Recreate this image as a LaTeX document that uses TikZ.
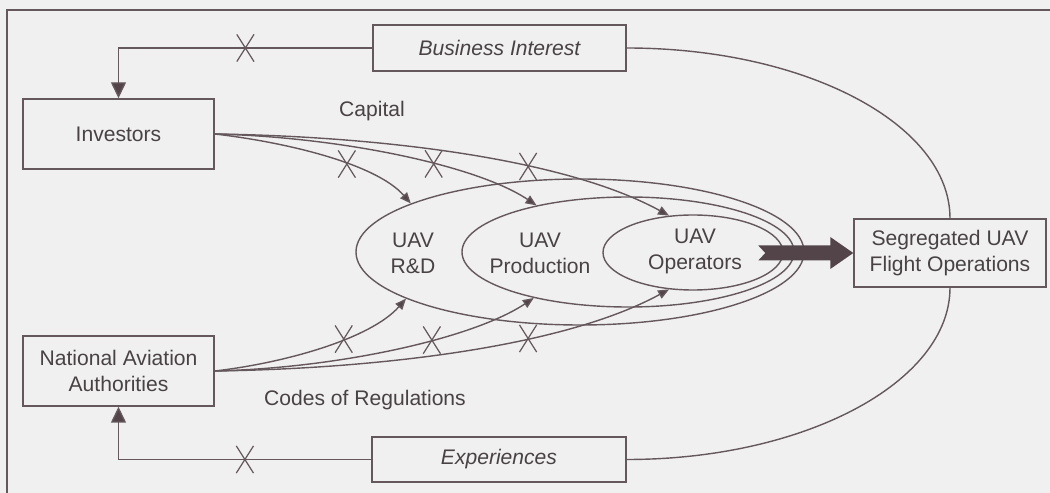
\documentclass[tikz,border=0pt]{standalone}
\usepackage{fontspec}
\setmainfont{Liberation Sans}
\usepackage{tikz}
\usetikzlibrary{arrows.meta}
\usetikzlibrary{shapes.geometric}
\usetikzlibrary{shapes.misc}
\definecolor{paper}{RGB}{241,240,240}
\definecolor{ink}{RGB}{100,88,92}
\definecolor{inktext}{RGB}{72,66,68}
\definecolor{inkhead}{RGB}{82,68,72}

\begin{document}
\begin{tikzpicture}[x=0.2mm, y=-0.2mm,
            every node/.style={font=\fontsize{12}{14.8}\selectfont, text=inktext},
            box/.style 2 args={draw=ink, line width=0.8pt, minimum width=#1, minimum height=#2, align=center, inner sep=0pt},
            slanted/.style={font=\fontsize{12}{14.8}\selectfont\itshape},
            ring/.style={ellipse, draw=ink, line width=0.8pt, inner sep=0pt},
            xmark/.style={cross out, draw=ink, line width=0.7pt, minimum width=3.2mm, minimum height=5.2mm, inner sep=0pt},
            link/.style={draw=ink, line width=0.8pt, -{Triangle[length=2.2mm, width=1.8mm, fill=inkhead]}},
            feed/.style={draw=ink, line width=0.8pt, -{Triangle[length=3.2mm, width=3mm, fill=inkhead]}},
            wrap/.style={draw=ink, line width=0.8pt}]
            \useasboundingbox (0,0) rectangle (1050,493);
            \fill[paper] (0,0) rectangle (1050,493);
            \draw[wrap] (7,493) -- (7,10) -- (1050,10);

            \node[box={50.6mm}{9.2mm}, slanted] (bi) at (499.5,48) {Business Interest};
            \node[box={38.2mm}{14mm}] (inv) at (118.5,134) {Investors};
            \node[box={38.2mm}{14mm}] (naa) at (118.5,371) {National Aviation\\Authorities};
            \node[box={50.8mm}{9mm}, slanted] (ex) at (499,459.5) {Experiences};
            \node[box={38.4mm}{13.6mm}] (seg) at (950,253) {Segregated UAV\\Flight Operations};

            \node[ring, minimum width=89.6mm, minimum height=29.2mm] (rd) at (580,252) {};
            \node[ring, minimum width=66.4mm, minimum height=22mm] (prod) at (628,252) {};
            \node[ring, minimum width=36mm, minimum height=15mm] (ops) at (693,252.5) {};
            \node[align=center] (rdlbl) at (413,253) {UAV\\R\&D};
            \node[align=center] (prodlbl) at (540,253) {UAV\\Production};
            \node[align=center] (opslbl) at (695,251) {UAV\\Operators};
            \node (capital) at (372,111) {Capital};
            \node (codes) at (365,400) {Codes of Regulations};

            \draw[feed] (bi.west) -| node[xmark, pos=0.25] (xbi) {} (inv.north);
            \draw[feed] (ex.west) -| node[xmark, pos=0.25] (xex) {} (naa.south);

            \draw[link] (inv.east) .. controls +(70,8) and +(-35,-40) .. node[xmark, pos=0.6] (xinv1) {} (rd.164.4);
            \draw[link] (inv.east) .. controls +(126,3) and +(-60,-40) .. node[xmark, pos=0.6] (xinv2) {} (prod.153.7);
            \draw[link] (inv.east) .. controls +(150,2) and +(-110,-60) .. node[xmark, pos=0.65] (xinv3) {} (ops.123);
            \draw[link] (naa.east) .. controls +(70,-8) and +(-35,40) .. node[xmark, pos=0.6] (xnaa1) {} (rd.195.6);
            \draw[link] (naa.east) .. controls +(126,-3) and +(-60,40) .. node[xmark, pos=0.6] (xnaa2) {} (prod.206.3);
            \draw[link] (naa.east) .. controls +(150,-2) and +(-110,60) .. node[xmark, pos=0.65] (xnaa3) {} (ops.237);

            \draw[wrap] (bi.east) .. controls +(179,0) and +(0,-94) .. (seg.north);
            \draw[wrap] (ex.east) .. controls +(179,0) and +(0,94) .. (seg.south);

            \fill[inkhead] (seg.west) -- ++(-23,-16) -- ++(0,8.5) -- ++(-72,0) -- ++(7,7.5) -- ++(-7,7.5) -- ++(72,0) -- ++(0,8.5) -- cycle;
\end{tikzpicture}
\end{document}
